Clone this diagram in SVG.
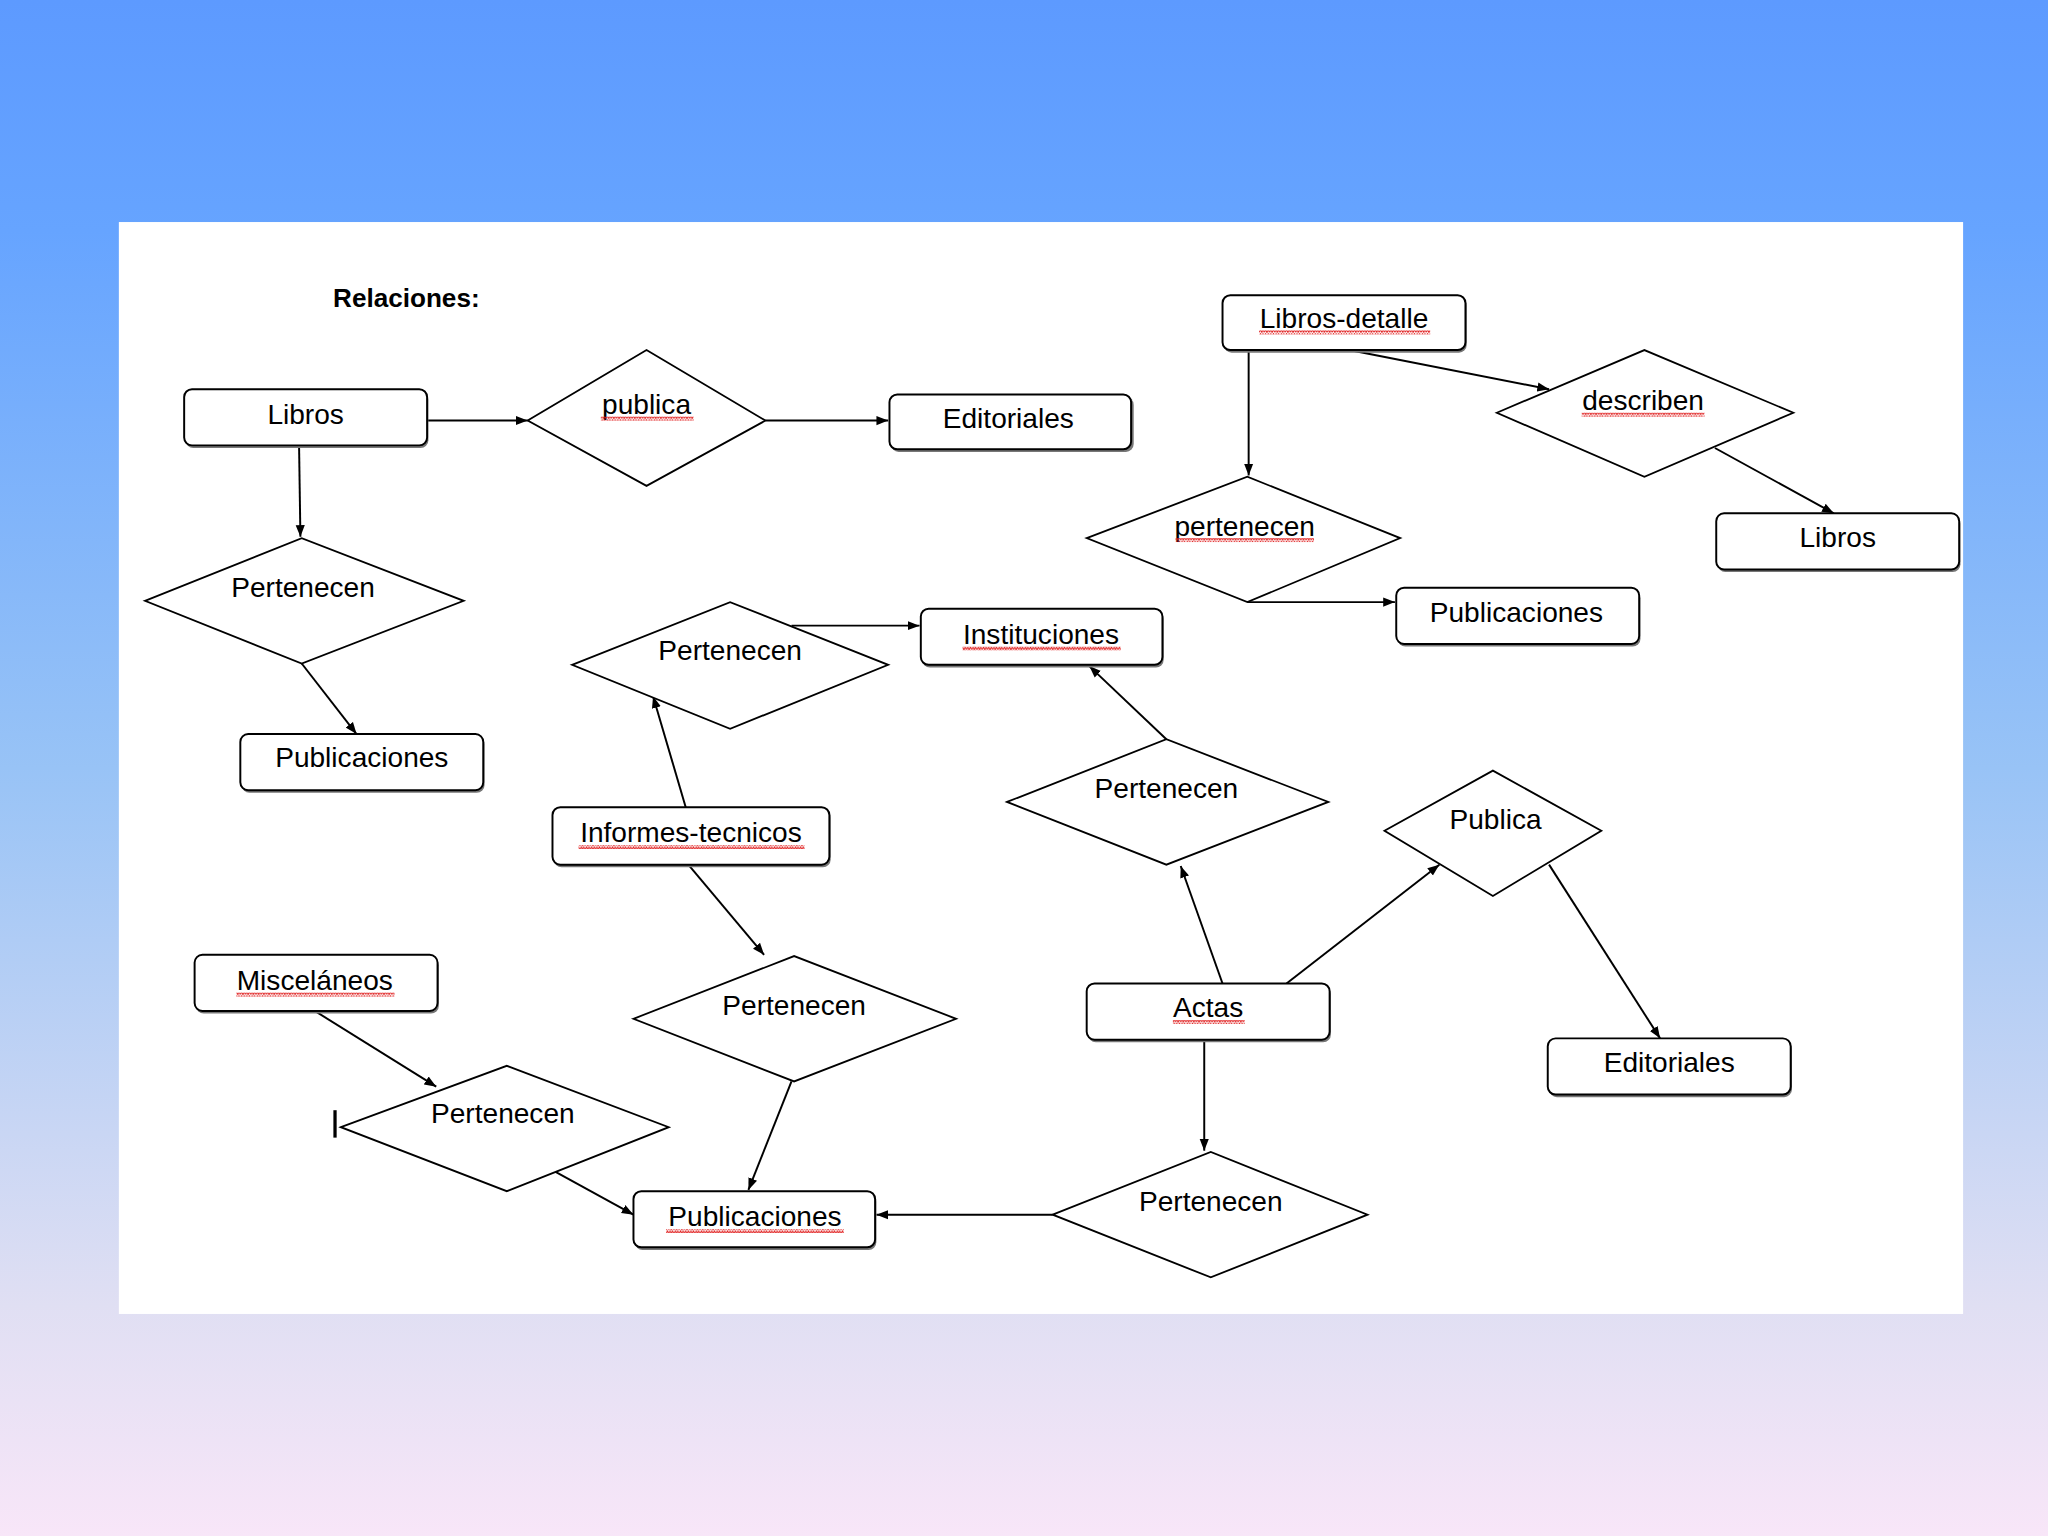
<svg xmlns="http://www.w3.org/2000/svg" width="2048" height="1536" viewBox="0 0 2048 1536">
<defs>
<linearGradient id="bg" x1="0" y1="0" x2="0" y2="1">
<stop offset="0" stop-color="#5d9aff"/>
<stop offset="0.15" stop-color="#66a4ff"/>
<stop offset="0.5" stop-color="#98c3f6"/>
<stop offset="0.85" stop-color="#e0dff3"/>
<stop offset="1" stop-color="#f8e6f8"/>
</linearGradient>
<pattern id="wavy" width="4" height="3" patternUnits="userSpaceOnUse">
<path d="M0,2.5 L1,0.5 L2,2.5 L3,0.5 L4,2.5" fill="none" stroke="#e02020" stroke-width="0.8"/>
</pattern>
<marker id="arr" markerUnits="userSpaceOnUse" markerWidth="10" markerHeight="8" refX="9" refY="4" orient="auto">
<path d="M0,0.5 L9,4 L0,7.5 Z" fill="#000"/>
</marker>
</defs>
<style>
.box{fill:#fff;stroke:#000;stroke-width:1.5}
.sh{fill:#777}
.dia{fill:#fff;stroke:#000;stroke-width:1.4}
.t{font-family:"Liberation Sans",Arial,sans-serif;font-size:21.5px;fill:#000;text-anchor:middle}
.b{font-family:"Liberation Sans",Arial,sans-serif;font-size:20px;font-weight:bold;fill:#000}
.c{fill:none;stroke:#000;stroke-width:1.5;marker-end:url(#arr)}
.sq{fill:url(#wavy)}
</style>
<rect x="0" y="0" width="2048" height="1536" fill="url(#bg)"/>
<g transform="scale(1.30612)">
<rect x="91" y="170" width="1412" height="836" fill="#fff"/>
<text class="b" x="255" y="235">Relaciones:</text>

<g id="connectors">
<path class="c" d="M327,322 L404,322"/>
<path class="c" d="M586,322 L680,322"/>
<path class="c" d="M229,343 L230,411"/>
<path class="c" d="M231,508 L273,562"/>
<path class="c" d="M956,268 L956,364"/>
<path class="c" d="M1033,268 L1186,298"/>
<path class="c" d="M1313,343 L1404,393"/>
<path class="c" d="M955,461 L1068,461"/>
<path class="c" d="M606,479 L704,479"/>
<path class="c" d="M525,618 L500,533"/>
<path class="c" d="M527,662 L585,731"/>
<path class="c" d="M893,566 L834,510"/>
<path class="c" d="M936,753 L904,663"/>
<path class="c" d="M985,753 L1102,662"/>
<path class="c" d="M1186,662 L1271,795"/>
<path class="c" d="M922,796 L922,881"/>
<path class="c" d="M806,930 L671,930"/>
<path class="c" d="M606,828 L573,911"/>
<path class="c" d="M241,774 L334,832"/>
<path class="c" d="M425,897 L485,930"/>
</g>

<g id="libros1"><rect class="sh" x="142" y="300" width="186" height="43" rx="6"/><rect class="box" x="141" y="298" width="186" height="43" rx="6"/><text class="t" x="234" y="325">Libros</text></g>
<g id="editoriales1"><rect class="sh" x="682" y="304" width="186" height="42" rx="6"/><rect class="box" x="681" y="302" width="185" height="42" rx="6"/><text class="t" x="772" y="328">Editoriales</text></g>
<g id="librosdetalle"><rect class="sh" x="937" y="228" width="186" height="42" rx="6"/><rect class="box" x="936" y="226" width="186" height="42" rx="6"/><text class="t" x="1029" y="251">Libros-detalle</text><rect class="sq" x="964" y="253" width="131" height="3"/></g>
<g id="libros2"><rect class="sh" x="1315" y="395" width="186" height="43" rx="6"/><rect class="box" x="1314" y="393" width="186" height="43" rx="6"/><text class="t" x="1407" y="419">Libros</text></g>
<g id="publicaciones1"><rect class="sh" x="1070" y="452" width="186" height="43" rx="6"/><rect class="box" x="1069" y="450" width="186" height="43" rx="6"/><text class="t" x="1161" y="476">Publicaciones</text></g>
<g id="instituciones"><rect class="sh" x="706" y="468" width="185" height="43" rx="6"/><rect class="box" x="705" y="466" width="185" height="43" rx="6"/><text class="t" x="797" y="493">Instituciones</text><rect class="sq" x="737" y="495" width="121" height="3"/></g>
<g id="publicaciones2"><rect class="sh" x="185" y="564" width="186" height="43" rx="6"/><rect class="box" x="184" y="562" width="186" height="43" rx="6"/><text class="t" x="277" y="587">Publicaciones</text></g>
<g id="informes"><rect class="sh" x="424" y="620" width="212" height="44" rx="6"/><rect class="box" x="423" y="618" width="212" height="44" rx="6"/><text class="t" x="529" y="645">Informes-tecnicos</text><rect class="sq" x="443" y="647" width="173" height="3"/></g>
<g id="miscelaneos"><rect class="sh" x="150" y="733" width="186" height="43" rx="6"/><rect class="box" x="149" y="731" width="186" height="43" rx="6"/><text class="t" x="241" y="758">Misceláneos</text><rect class="sq" x="181" y="760" width="121" height="3"/></g>
<g id="actas"><rect class="sh" x="833" y="755" width="186" height="43" rx="6"/><rect class="box" x="832" y="753" width="186" height="43" rx="6"/><text class="t" x="925" y="779">Actas</text><rect class="sq" x="898" y="781" width="55" height="3"/></g>
<g id="editoriales2"><rect class="sh" x="1186" y="797" width="186" height="43" rx="6"/><rect class="box" x="1185" y="795" width="186" height="43" rx="6"/><text class="t" x="1278" y="821">Editoriales</text></g>
<g id="publicaciones3"><rect class="sh" x="486" y="914" width="185" height="43" rx="6"/><rect class="box" x="485" y="912" width="185" height="43" rx="6"/><text class="t" x="578" y="939">Publicaciones</text><rect class="sq" x="510" y="941" width="136" height="3"/></g>

<g id="publica1"><polygon class="dia" points="404,322 495,268 586,322 495,372"/><text class="t" x="495" y="317">publica</text><rect class="sq" x="460" y="319" width="71" height="3"/></g>
<g id="pertenecen1"><polygon class="dia" points="111,460 231,412 355,460 231,508"/><text class="t" x="232" y="457">Pertenecen</text></g>
<g id="pertenecen2"><polygon class="dia" points="832,412 955,365 1072,412 955,461"/><text class="t" x="953" y="410">pertenecen</text><rect class="sq" x="900" y="412" width="106" height="3"/></g>
<g id="describen"><polygon class="dia" points="1146,316 1259,268 1373,316 1259,365"/><text class="t" x="1258" y="314">describen</text><rect class="sq" x="1211" y="316" width="94" height="3"/></g>
<g id="pertenecen3"><polygon class="dia" points="438,509 559,461 680,509 559,558"/><text class="t" x="559" y="505">Pertenecen</text></g>
<g id="pertenecen4"><polygon class="dia" points="771,614 893,566 1017,614 893,662"/><text class="t" x="893" y="611">Pertenecen</text></g>
<g id="publica2"><polygon class="dia" points="1060,636 1143,590 1226,636 1143,686"/><text class="t" x="1145" y="635">Publica</text></g>
<g id="pertenecen5"><polygon class="dia" points="485,780 608,732 732,780 608,828"/><text class="t" x="608" y="777">Pertenecen</text></g>
<g id="pertenecen6"><polygon class="dia" points="261,863 388,816 512,863 388,912"/><text class="t" x="385" y="860">Pertenecen</text></g>
<g id="pertenecen7"><polygon class="dia" points="806,930 927,882 1047,930 927,978"/><text class="t" x="927" y="927">Pertenecen</text></g>

<line x1="256.5" y1="850" x2="256.5" y2="871" stroke="#000" stroke-width="2.5"/>
</g>
</svg>
